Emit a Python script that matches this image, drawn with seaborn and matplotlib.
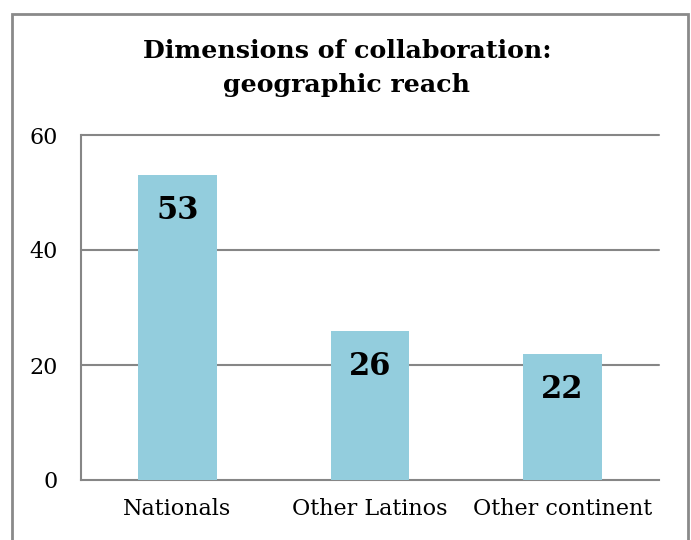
import matplotlib
matplotlib.use("Agg")
import matplotlib.pyplot as plt
import seaborn as sns
import pandas as pd
from matplotlib.patches import Rectangle

# chart data
categories = ["Nationals", "Other Latinos", "Other continent"]
values = [53, 26, 22]
y_ticks = [0, 20, 40, 60]

bar_color = "#93CDDD"
grid_color = "#868686"

sns.set_theme(style="white")
plt.rcParams["font.family"] = ["DejaVu Serif"]
plt.rcParams["text.color"] = "black"

df = pd.DataFrame({"region": categories, "count": values})

fig = plt.figure(figsize=(6.91, 5.40), dpi=100)
ax = fig.add_axes([81 / 691, 60 / 540, 578 / 691, 345 / 540])

sns.barplot(data=df, x="region", y="count", color=bar_color, saturation=1,
            width=0.41, linewidth=0, ax=ax, zorder=3)

ax.set_ylim(0, 60)
ax.set_yticks(y_ticks)
ax.set_xlim(-0.5, len(categories) - 0.5)
ax.set_xlabel("")
ax.set_ylabel("")

# horizontal gridlines
for t in y_ticks[1:]:
    ax.axhline(t, color=grid_color, lw=1.5, zorder=1, clip_on=False)

for side in ["top", "right"]:
    ax.spines[side].set_visible(False)
for side in ["left", "bottom"]:
    ax.spines[side].set_color(grid_color)
    ax.spines[side].set_linewidth(1.5)

ax.tick_params(axis="y", length=0, pad=17, labelsize=16, colors="black")
ax.tick_params(axis="x", length=0, pad=13, labelsize=16, colors="black")

# value labels inside bars
for i, v in enumerate(values):
    ax.text(i, v - 6.2, str(v), ha="center", va="center", fontsize=22,
            fontweight="bold", color="black", zorder=4)

fig.text(0.502, 0.874, "Dimensions of collaboration:\ngeographic reach",
         ha="center", va="center", fontsize=18.2, fontweight="bold",
         color="black", linespacing=1.5)

# outer chart border
fig.patches.append(Rectangle((12 / 691, -0.05), 676 / 691, 1.05 - 14 / 540,
                             transform=fig.transFigure, fill=False,
                             edgecolor="#8a8a8a", lw=2))

fig.savefig("out.png", dpi=100)
